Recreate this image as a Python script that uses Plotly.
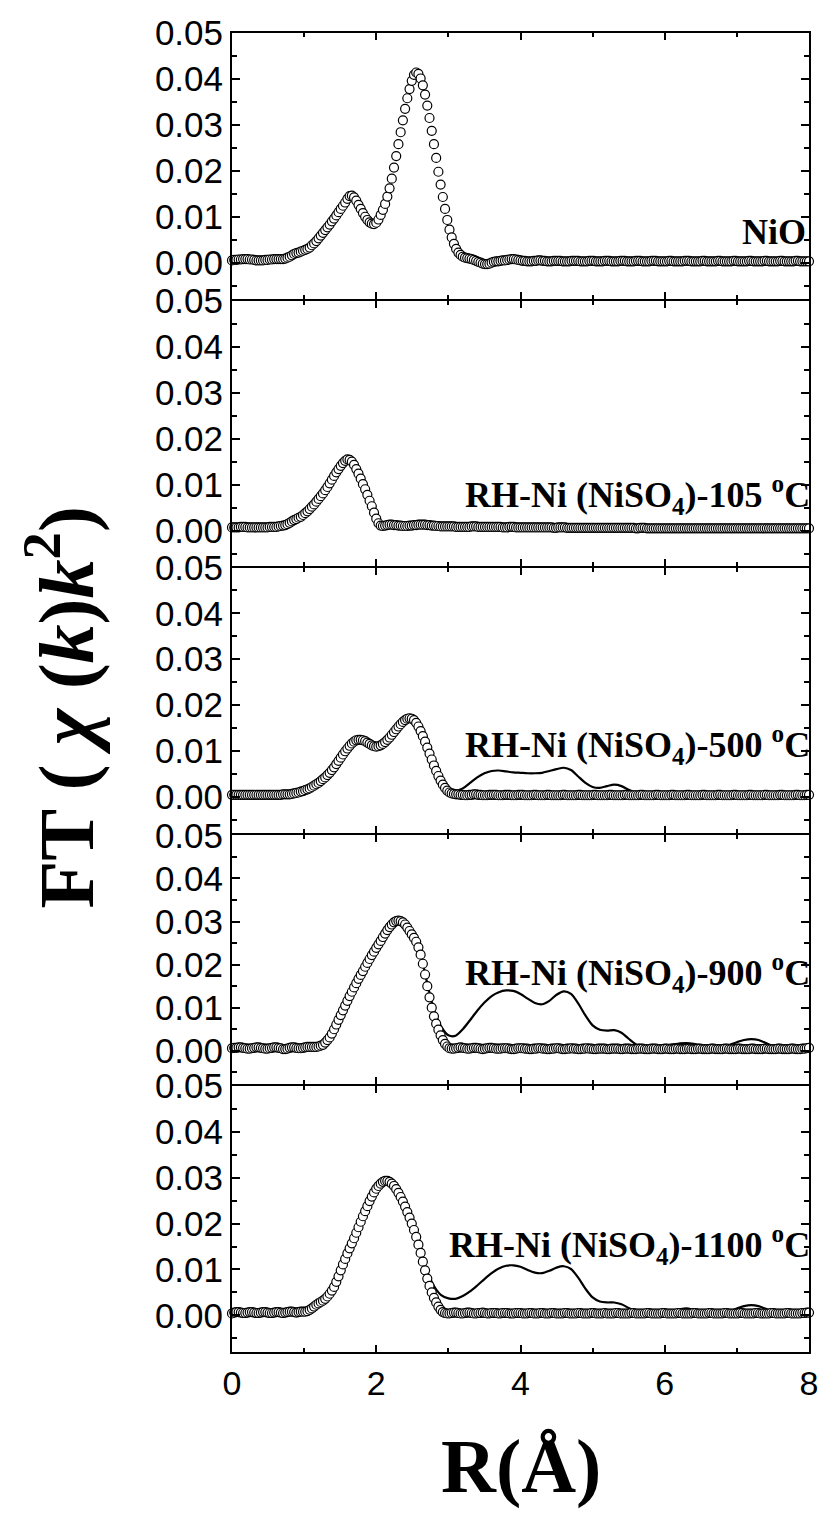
import numpy as np
import plotly.graph_objects as go

# ---------------- data (R in Å, FT magnitude) ----------------
R_CIRCLES = np.linspace(0, 8, 261)   # sampling grid of the circle curves
R_LINES = np.linspace(0, 8, 81)      # sampling grid of the solid curves

nio_circles = [
0.0005,0.0006,0.0006,0.0007,0.0007,0.0008,0.0008,0.0008,0.0007,0.0007,
0.0006,0.0005,0.0005,0.0005,0.0005,0.0006,0.0006,0.0007,0.0007,0.0008,
0.0008,0.0008,0.0008,0.0008,0.0009,0.0011,0.0013,0.0016,0.0019,0.0021,
0.0022,0.0024,0.0026,0.0028,0.0030,0.0033,0.0038,0.0042,0.0047,0.0053,
0.0059,0.0065,0.0071,0.0077,0.0083,0.0090,0.0096,0.0103,0.0110,0.0117,
0.0124,0.0131,0.0139,0.0145,0.0146,0.0142,0.0135,0.0126,0.0117,0.0108,
0.0100,0.0093,0.0088,0.0085,0.0084,0.0087,0.0094,0.0104,0.0115,0.0128,
0.0144,0.0162,0.0183,0.0207,0.0232,0.0258,0.0284,0.0310,0.0335,0.0358,
0.0378,0.0396,0.0409,0.0414,0.0411,0.0401,0.0386,0.0366,0.0342,0.0315,
0.0287,0.0258,0.0228,0.0198,0.0170,0.0143,0.0117,0.0093,0.0072,0.0055,
0.0041,0.0030,0.0022,0.0017,0.0013,0.0011,0.0010,0.0009,0.0008,0.0006,
0.0004,0.0002,0.0000,-0.0002,-0.0003,-0.0003,-0.0002,0.0000,0.0002,0.0003,
0.0003,0.0004,0.0005,0.0005,0.0006,0.0007,0.0008,0.0008,0.0007,0.0006,
0.0005,
0.0004,0.0004,0.0003,0.0003,0.0003,0.0004,0.0004,0.0005,0.0005,0.0004,
0.0004,0.0003,0.0003,0.0003,0.0004,0.0004,0.0004,0.0004,0.0003,0.0003,
0.0003,0.0003,0.0004,0.0004,0.0004,0.0004,0.0003,0.0003,0.0003,0.0003,
0.0004,0.0004,0.0004,0.0003,0.0003,0.0003,0.0003,0.0004,0.0004,0.0004,
0.0003,0.0003,0.0003,0.0003,0.0004,0.0004,0.0004,0.0003,0.0003,0.0003,
0.0003,0.0004,0.0004,0.0004,0.0003,0.0003,0.0003,0.0003,0.0004,0.0004,
0.0004,0.0003,0.0003,0.0003,0.0003,0.0003,0.0004,0.0004,0.0003,0.0003,
0.0003,0.0003,0.0003,0.0004,0.0004,0.0004,0.0003,0.0003,0.0003,0.0003,
0.0003,0.0004,0.0004,0.0003,0.0003,0.0003,0.0003,0.0003,0.0004,0.0004,
0.0003,0.0003,0.0003,0.0003,0.0003,0.0004,0.0004,0.0003,0.0003,0.0003,
0.0003,0.0003,0.0004,0.0004,0.0003,0.0003,0.0003,0.0003,0.0003,0.0004,
0.0004,0.0003,0.0003,0.0003,0.0003,0.0003,0.0004,0.0004,0.0003,0.0003,
0.0003,0.0003,0.0003,0.0004,0.0004,0.0003,0.0003,0.0003,0.0003,0.0003,
]

rh105_circles = [
0.0007,0.0007,0.0007,0.0007,0.0008,0.0008,0.0008,0.0007,0.0007,0.0007,
0.0007,0.0007,0.0007,0.0007,0.0007,0.0007,0.0007,0.0008,0.0008,0.0008,
0.0008,0.0009,0.0010,0.0011,0.0012,0.0014,0.0017,0.0020,0.0023,0.0025,
0.0028,0.0030,0.0034,0.0038,0.0042,0.0047,0.0052,0.0057,0.0063,0.0069,
0.0075,0.0081,0.0088,0.0095,0.0103,0.0111,0.0119,0.0127,0.0134,0.0141,
0.0147,0.0152,0.0155,0.0154,0.0150,0.0143,0.0134,0.0124,0.0113,0.0101,
0.0090,0.0078,0.0065,0.0053,0.0039,0.0026,0.0016,0.0011,0.0010,0.0011,
0.0012,0.0013,0.0013,0.0012,0.0012,0.0011,0.0011,0.0010,0.0010,0.0010,
0.0011,0.0011,0.0012,0.0012,0.0013,0.0013,0.0013,0.0013,0.0012,0.0012,
0.0011,0.0011,0.0010,0.0010,0.0009,0.0009,0.0009,0.0009,0.0009,0.0009,
0.0009,0.0008,0.0008,0.0008,0.0008,0.0008,0.0008,0.0008,0.0009,0.0009,
0.0009,0.0008,0.0008,0.0008,0.0008,0.0008,0.0008,0.0008,0.0008,0.0008,
0.0008,0.0008,0.0007,0.0007,0.0007,0.0008,0.0008,0.0008,0.0007,0.0007,
0.0007,0.0007,0.0007,0.0007,0.0007,0.0007,0.0007,0.0007,0.0007,0.0007,
0.0007,0.0007,0.0007,0.0007,0.0007,0.0006,0.0006,0.0007,0.0007,0.0007,
0.0007,0.0006,0.0006,0.0006,0.0006,0.0006,0.0006,0.0006,0.0006,0.0006,
0.0006,0.0006,0.0006,0.0006,0.0006,0.0006,0.0006,0.0006,0.0006,0.0006,
0.0006,0.0006,0.0006,0.0006,0.0006,0.0006,0.0006,0.0006,0.0006,0.0006,
0.0006,0.0006,0.0005,0.0005,0.0006,0.0006,0.0006,0.0005,0.0005,0.0005,
0.0005,0.0005,0.0005,0.0005,0.0005,0.0005,0.0005,0.0005,0.0005,0.0005,
0.0005,0.0005,0.0005,0.0005,0.0005,0.0005,0.0005,0.0005,0.0005,0.0005,
0.0005,0.0005,0.0005,0.0005,0.0005,0.0005,0.0005,0.0005,0.0005,0.0005,
0.0005,0.0005,0.0005,0.0005,0.0005,0.0005,0.0005,0.0005,0.0005,0.0005,
0.0005,0.0005,0.0005,0.0005,0.0005,0.0005,0.0005,0.0005,0.0005,0.0005,
0.0005,0.0005,0.0005,0.0005,0.0005,0.0005,0.0005,0.0005,0.0005,0.0005,
0.0005,0.0005,0.0005,0.0005,0.0005,0.0005,0.0005,0.0005,0.0005,0.0005,
0.0005,
]

rh500_circles = [
0.0004,0.0004,0.0004,0.0004,0.0004,0.0004,0.0004,0.0004,0.0004,0.0004,
0.0004,0.0004,0.0004,0.0004,0.0004,0.0004,0.0004,0.0004,0.0004,0.0004,
0.0004,0.0004,0.0004,0.0005,0.0005,0.0005,0.0005,0.0006,0.0007,0.0008,
0.0009,0.0011,0.0012,0.0014,0.0016,0.0018,0.0021,0.0024,0.0027,0.0030,
0.0034,0.0038,0.0042,0.0047,0.0052,0.0058,0.0064,0.0071,0.0078,0.0085,
0.0092,0.0099,0.0105,0.0111,0.0116,0.0120,0.0123,0.0124,0.0124,0.0123,
0.0121,0.0118,0.0115,0.0112,0.0110,0.0109,0.0110,0.0112,0.0115,0.0119,
0.0124,0.0129,0.0135,0.0141,0.0147,0.0153,0.0158,0.0163,0.0167,0.0170,
0.0171,0.0170,0.0167,0.0161,0.0153,0.0143,0.0132,0.0120,0.0107,0.0094,
0.0081,0.0068,0.0056,0.0045,0.0035,0.0026,0.0019,0.0013,0.0009,0.0007,
0.0006,0.0005,0.0005,0.0004,0.0004,0.0003,0.0003,0.0004,0.0004,0.0005,
0.0005,0.0004,0.0004,0.0003,0.0003,0.0003,0.0004,0.0004,0.0004,0.0004,
0.0003,0.0003,0.0003,0.0004,0.0004,0.0004,0.0003,0.0003,0.0003,0.0004,
0.0004,0.0004,0.0003,0.0003,0.0003,0.0003,0.0004,0.0004,0.0003,0.0003,
0.0003,0.0003,0.0004,0.0004,0.0003,0.0003,0.0003,0.0003,0.0003,0.0004,
0.0004,0.0003,0.0003,0.0003,0.0003,0.0003,0.0004,0.0004,0.0003,0.0003,
0.0003,0.0003,0.0003,0.0004,0.0004,0.0003,0.0003,0.0003,0.0003,0.0003,
0.0004,0.0004,0.0003,0.0003,0.0003,0.0003,0.0003,0.0004,0.0004,0.0003,
0.0003,0.0003,0.0003,0.0003,0.0004,0.0004,0.0003,0.0003,0.0003,0.0003,
0.0003,0.0004,0.0004,0.0003,0.0003,0.0003,0.0003,0.0003,0.0004,0.0004,
0.0003,0.0003,0.0003,0.0003,0.0003,0.0004,0.0004,0.0003,0.0003,0.0003,
0.0003,0.0003,0.0004,0.0004,0.0003,0.0003,0.0003,0.0003,0.0003,0.0004,
0.0004,0.0003,0.0003,0.0003,0.0003,0.0003,0.0004,0.0004,0.0003,0.0003,
0.0003,0.0003,0.0003,0.0004,0.0004,0.0003,0.0003,0.0003,0.0003,0.0003,
0.0004,0.0004,0.0003,0.0003,0.0003,0.0003,0.0003,0.0004,0.0004,0.0003,
0.0003,0.0003,0.0003,0.0003,0.0004,0.0004,0.0003,0.0003,0.0003,0.0004,
0.0004,
]

rh500_line = [
0.0004,0.0004,0.0004,0.0004,0.0004,0.0004,0.0004,0.0005,0.0005,0.0008,
0.0013,0.0020,0.0030,0.0044,0.0062,0.0084,0.0106,0.0122,0.0128,0.0123,
0.0117,0.0120,0.0134,0.0153,0.0168,0.0172,0.0155,0.0121,0.0078,0.0040,
0.0017,0.0013,0.0018,0.0030,0.0042,0.0051,0.0056,0.0057,0.0055,0.0053,
0.0052,0.0051,0.0051,0.0052,0.0056,0.0060,0.0063,0.0058,0.0044,0.0030,
0.0021,0.0019,0.0023,0.0026,0.0023,0.0015,0.0009,0.0006,0.0005,0.0005,
0.0005,0.0005,0.0004,0.0004,0.0004,0.0004,0.0004,0.0004,0.0004,0.0004,
0.0004,0.0004,0.0004,0.0004,0.0004,0.0004,0.0004,0.0004,0.0004,0.0004,
0.0004,
]

rh900_circles = [
0.0006,0.0007,0.0007,0.0008,0.0008,0.0007,0.0006,0.0005,0.0005,0.0006,
0.0007,0.0008,0.0008,0.0007,0.0006,0.0005,0.0005,0.0006,0.0007,0.0008,
0.0008,0.0007,0.0006,0.0004,0.0004,0.0005,0.0007,0.0008,0.0008,0.0007,
0.0006,0.0006,0.0007,0.0008,0.0009,0.0009,0.0009,0.0009,0.0009,0.0010,
0.0012,0.0014,0.0019,0.0025,0.0031,0.0040,0.0050,0.0061,0.0072,0.0083,
0.0094,0.0105,0.0116,0.0127,0.0137,0.0147,0.0157,0.0167,0.0176,0.0185,
0.0195,0.0204,0.0213,0.0222,0.0230,0.0239,0.0247,0.0255,0.0264,0.0272,
0.0280,0.0287,0.0293,0.0298,0.0301,0.0302,0.0301,0.0298,0.0293,0.0286,
0.0278,0.0270,0.0262,0.0253,0.0240,0.0223,0.0202,0.0177,0.0150,0.0124,
0.0100,0.0080,0.0063,0.0049,0.0036,0.0025,0.0016,0.0010,0.0006,0.0005,
0.0005,0.0006,0.0007,0.0008,0.0007,0.0006,0.0005,0.0005,0.0006,0.0007,
0.0007,0.0006,0.0005,0.0004,0.0005,0.0006,0.0007,0.0007,0.0006,0.0005,
0.0005,0.0005,0.0006,0.0006,0.0006,0.0005,0.0004,0.0004,0.0005,0.0006,
0.0006,0.0006,0.0005,0.0005,0.0004,0.0004,0.0005,0.0005,0.0006,0.0006,
0.0005,0.0005,0.0004,0.0004,0.0005,0.0005,0.0006,0.0006,0.0005,0.0004,
0.0004,0.0005,0.0005,0.0006,0.0005,0.0005,0.0004,0.0004,0.0005,0.0005,
0.0006,0.0005,0.0005,0.0004,0.0004,0.0005,0.0005,0.0005,0.0005,0.0004,
0.0004,0.0005,0.0005,0.0005,0.0005,0.0004,0.0004,0.0005,0.0005,0.0005,
0.0004,0.0004,0.0004,0.0005,0.0005,0.0005,0.0004,0.0004,0.0004,0.0005,
0.0005,0.0005,0.0004,0.0004,0.0004,0.0005,0.0005,0.0004,0.0004,0.0004,
0.0005,0.0005,0.0004,0.0004,0.0004,0.0005,0.0005,0.0004,0.0004,0.0004,
0.0005,0.0005,0.0004,0.0004,0.0004,0.0004,0.0005,0.0005,0.0004,0.0004,
0.0004,0.0004,0.0005,0.0005,0.0004,0.0004,0.0004,0.0004,0.0005,0.0005,
0.0004,0.0004,0.0004,0.0004,0.0005,0.0005,0.0004,0.0004,0.0004,0.0004,
0.0005,0.0005,0.0004,0.0004,0.0004,0.0004,0.0005,0.0005,0.0004,0.0004,
0.0004,0.0004,0.0005,0.0005,0.0004,0.0004,0.0004,0.0005,0.0005,0.0006,
0.0007,
]

rh900_line = [
0.0006,0.0008,0.0007,0.0006,0.0007,0.0006,0.0007,0.0005,0.0008,0.0007,
0.0008,0.0009,0.0010,0.0022,0.0048,0.0085,0.0122,0.0156,0.0188,0.0220,
0.0250,0.0280,0.0302,0.0306,0.0296,0.0272,0.0235,0.0162,0.0095,0.0056,
0.0036,0.0035,0.0050,0.0071,0.0093,0.0112,0.0127,0.0136,0.0140,0.0139,
0.0132,0.0121,0.0111,0.0108,0.0116,0.0130,0.0138,0.0132,0.0110,0.0082,
0.0059,0.0049,0.0047,0.0048,0.0042,0.0028,0.0015,0.0009,0.0008,0.0010,
0.0012,0.0015,0.0017,0.0018,0.0016,0.0012,0.0009,0.0007,0.0009,0.0014,
0.0020,0.0025,0.0027,0.0025,0.0018,0.0011,0.0007,0.0006,0.0007,0.0010,
0.0013,
]

rh1100_circles = [
0.0004,0.0006,0.0007,0.0007,0.0006,0.0005,0.0005,0.0006,0.0007,0.0007,
0.0006,0.0005,0.0005,0.0006,0.0007,0.0007,0.0006,0.0005,0.0005,0.0006,
0.0007,0.0007,0.0006,0.0005,0.0006,0.0007,0.0008,0.0008,0.0007,0.0006,
0.0007,0.0008,0.0008,0.0008,0.0009,0.0012,0.0015,0.0019,0.0023,0.0026,
0.0029,0.0032,0.0036,0.0041,0.0047,0.0054,0.0062,0.0073,0.0085,0.0098,
0.0111,0.0123,0.0135,0.0146,0.0157,0.0168,0.0180,0.0192,0.0204,0.0216,
0.0227,0.0238,0.0249,0.0259,0.0268,0.0276,0.0282,0.0287,0.0291,0.0293,
0.0293,0.0291,0.0287,0.0282,0.0275,0.0267,0.0258,0.0248,0.0237,0.0225,
0.0213,0.0200,0.0186,0.0171,0.0154,0.0136,0.0117,0.0098,0.0080,0.0064,
0.0050,0.0038,0.0028,0.0019,0.0012,0.0007,0.0005,0.0004,0.0004,0.0005,
0.0006,0.0006,0.0005,0.0004,0.0004,0.0005,0.0006,0.0006,0.0005,0.0004,
0.0004,0.0005,0.0005,0.0006,0.0005,0.0004,0.0004,0.0005,0.0005,0.0005,
0.0004,0.0004,0.0005,0.0005,0.0005,0.0004,0.0004,0.0004,0.0005,0.0005,
0.0005,0.0004,0.0004,0.0004,0.0005,0.0005,0.0004,0.0004,0.0004,0.0005,
0.0005,0.0004,0.0004,0.0004,0.0005,0.0005,0.0004,0.0004,0.0004,0.0004,
0.0005,0.0005,0.0004,0.0004,0.0004,0.0004,0.0005,0.0005,0.0004,0.0004,
0.0004,0.0004,0.0005,0.0005,0.0004,0.0004,0.0004,0.0004,0.0005,0.0004,
0.0004,0.0004,0.0004,0.0005,0.0005,0.0004,0.0004,0.0004,0.0004,0.0004,
0.0005,0.0005,0.0004,0.0004,0.0004,0.0004,0.0004,0.0005,0.0005,0.0004,
0.0004,0.0004,0.0004,0.0004,0.0005,0.0005,0.0004,0.0004,0.0004,0.0004,
0.0004,0.0005,0.0005,0.0004,0.0004,0.0004,0.0004,0.0004,0.0005,0.0005,
0.0004,0.0004,0.0004,0.0004,0.0004,0.0005,0.0005,0.0004,0.0004,0.0004,
0.0004,0.0004,0.0005,0.0005,0.0004,0.0004,0.0004,0.0004,0.0004,0.0005,
0.0005,0.0004,0.0004,0.0004,0.0004,0.0004,0.0005,0.0005,0.0004,0.0004,
0.0004,0.0004,0.0004,0.0005,0.0005,0.0004,0.0004,0.0004,0.0004,0.0004,
0.0005,0.0005,0.0004,0.0004,0.0004,0.0004,0.0004,0.0005,0.0005,0.0006,
0.0006,
]

rh1100_line = [
0.0005,0.0006,0.0006,0.0006,0.0006,0.0006,0.0006,0.0006,0.0007,0.0007,
0.0008,0.0014,0.0026,0.0038,0.0058,0.0095,0.0137,0.0176,0.0214,0.0248,
0.0279,0.0295,0.0292,0.0270,0.0240,0.0203,0.0148,0.0098,0.0064,0.0044,
0.0037,0.0036,0.0042,0.0052,0.0065,0.0079,0.0092,0.0102,0.0108,0.0109,
0.0106,0.0099,0.0093,0.0092,0.0097,0.0104,0.0107,0.0101,0.0082,0.0058,
0.0039,0.0030,0.0028,0.0028,0.0024,0.0016,0.0008,0.0004,0.0004,0.0005,
0.0007,0.0010,0.0013,0.0015,0.0012,0.0008,0.0004,0.0003,0.0005,0.0009,
0.0015,0.0020,0.0022,0.0020,0.0014,0.0008,0.0004,0.0003,0.0004,0.0006,
0.0009,
]

panel_labels = [
    "NiO",
    "RH-Ni (NiSO<sub>4</sub>)-105 <sup>o</sup>C",
    "RH-Ni (NiSO<sub>4</sub>)-500 <sup>o</sup>C",
    "RH-Ni (NiSO<sub>4</sub>)-900 <sup>o</sup>C",
    "RH-Ni (NiSO<sub>4</sub>)-1100 <sup>o</sup>C",
]
circle_series = [nio_circles, rh105_circles, rh500_circles, rh900_circles, rh1100_circles]
line_series = [None, None, rh500_line, rh900_line, rh1100_line]

for s in circle_series:
    assert len(s) == 261, len(s)
for s in line_series[2:]:
    assert len(s) == 81, len(s)

Y_TICKS = [0.0, 0.01, 0.02, 0.03, 0.04, 0.05]
Y_TICKTEXT = ["0.00", "0.01", "0.02", "0.03", "0.04", "0.05"]
X_TICKS = [0, 2, 4, 6, 8]

# ---------------- layout geometry ----------------
W, H = 830, 1513
ML, MR, MT, MB = 232, 13, 33, 161
PW = W - ML - MR
PH = H - MT - MB
# panel pixel boundaries (top, bottom); 2 px gaps hold the shared axis lines
panel_px = [(33, 299), (301, 565.5), (567.5, 833.3), (835.3, 1084), (1086, 1352)]
y_min = [-0.0079, -0.0076, -0.0080, -0.0077, -0.0080]
# label anchor: right edge in pixels, vertical centre in data units
label_pos = [(816, 0.0066), (820, 0.0077), (820, 0.0112), (820, 0.0180), (820, 0.0153)]

fig = go.Figure()
tick_font_y = dict(family="Liberation Sans, Arial, sans-serif", size=35, color="black")
tick_font_x = dict(family="Liberation Sans, Arial, sans-serif", size=34, color="black")
serif = "Liberation Serif, Times New Roman, serif"

for k in range(5):
    n = k + 1
    xa = "x" if n == 1 else f"x{n}"
    ya = "y" if n == 1 else f"y{n}"
    top, bot = panel_px[k]
    dom = [(H - MB - bot) / PH, (H - MB - top) / PH]
    if line_series[k] is not None:
        fig.add_trace(go.Scatter(
            x=R_LINES, y=line_series[k], mode="lines",
            line=dict(color="black", width=2.2, shape="spline", smoothing=0.8),
            xaxis=xa, yaxis=ya, showlegend=False, hoverinfo="skip"))
    fig.add_trace(go.Scatter(
        x=R_CIRCLES, y=circle_series[k], mode="markers",
        marker=dict(symbol="circle", size=9, color="white",
                    line=dict(color="black", width=1.2)),
        cliponaxis=False, xaxis=xa, yaxis=ya, showlegend=False, hoverinfo="skip"))

    xkey = "xaxis" if n == 1 else f"xaxis{n}"
    ykey = "yaxis" if n == 1 else f"yaxis{n}"
    fig.layout[xkey] = dict(
        domain=[0, 1], anchor=ya, range=[0, 8],
        tickvals=X_TICKS, ticks="inside", ticklen=7, tickwidth=1.5, tickcolor="black",
        minor=dict(dtick=1, tick0=0, ticks="inside", ticklen=4, tickwidth=1.5, tickcolor="black"),
        showline=True, linecolor="black", linewidth=2, mirror="ticks",
        showgrid=False, zeroline=False,
        showticklabels=(n == 5), tickfont=tick_font_x,
    )
    fig.layout[ykey] = dict(
        domain=dom, anchor=xa, range=[y_min[k], 0.05],
        tickvals=Y_TICKS, ticktext=Y_TICKTEXT,
        ticks="inside", ticklen=8, tickwidth=1.5, tickcolor="black",
        minor=dict(dtick=0.005, tick0=0, ticks="inside", ticklen=5, tickwidth=1.5, tickcolor="black"),
        showline=True, linecolor="black", linewidth=2, mirror="ticks",
        showgrid=False, zeroline=False, tickfont=tick_font_y,
    )
    lpx, ly = label_pos[k]
    fig.add_annotation(
        x=(lpx - ML) / PW, y=ly, xref="paper", yref=ya, text=f"<b>{panel_labels[k]}</b>",
        showarrow=False, xanchor="right", yanchor="middle",
        font=dict(family=serif, size=36, color="black"))

# axis titles
fig.add_annotation(
    x=(58 - ML) / PW, y=(H - MB - 707) / PH, xref="paper", yref="paper",
    text="<b>FT ( <i>χ</i> (<i>k</i>)<i>k</i><sup>2</sup>)</b>", textangle=-90,
    showarrow=False, xanchor="center", yanchor="middle",
    font=dict(family=serif, size=78, color="black"))
fig.add_annotation(
    x=0.5, y=-(1466 - (H - MB)) / PH, xref="paper", yref="paper",
    text="<b>R(Å)</b>", showarrow=False, xanchor="center", yanchor="middle",
    font=dict(family=serif, size=76, color="black"))

fig.update_layout(
    width=W, height=H, margin=dict(l=ML, r=MR, t=MT, b=MB, pad=0),
    paper_bgcolor="white", plot_bgcolor="white", showlegend=False,
)

fig.write_html("out.html")
